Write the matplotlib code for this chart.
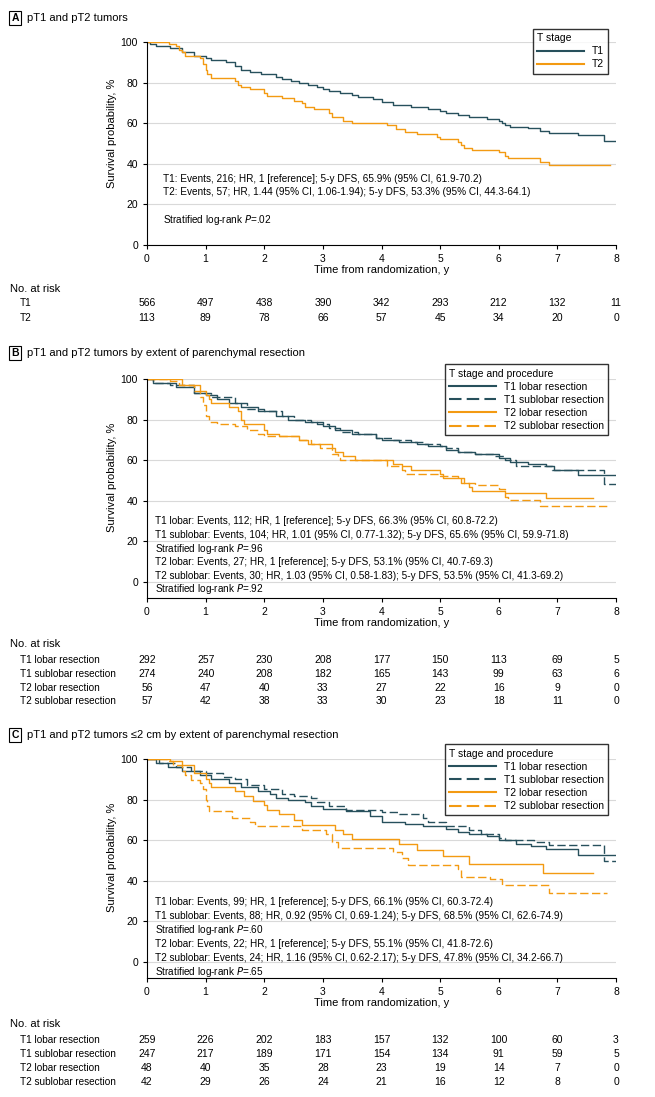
import numpy as np
import matplotlib
matplotlib.use('Agg')
import matplotlib.pyplot as plt
from matplotlib.lines import Line2D

plt.rcParams['font.family'] = ['Liberation Sans', 'DejaVu Sans']
plt.rcParams['font.size'] = 7.5

W, H = 655, 1097
T1C = '#27505c'
T2C = '#f39a12'

# ---- panel A ----
a_t1_t = [0, .05, .15, .4, .6, .8, 1.0, 1.1, 1.35, 1.5, 1.6, 1.75, 1.95, 2.2, 2.3, 2.45, 2.6, 2.75, 2.9, 3.0, 3.1, 3.3, 3.5, 3.6, 3.85, 4.0, 4.2, 4.5, 4.8, 5.0, 5.1, 5.3, 5.5, 5.8, 6.0, 6.05, 6.1, 6.2, 6.5, 6.7, 6.85, 7.35, 7.8, 8.0]
a_t1_s = [100, 99, 98, 97, 95, 93, 92, 91, 90, 88, 86, 85, 84, 83, 82, 81, 80, 79, 78, 77, 76, 75, 74, 73, 72, 70.5, 69, 68, 67, 66, 65, 64, 63, 62, 61, 60, 59, 58, 57.5, 56, 55, 54, 51, 51]
a_t2_t = [0, .37, .5, .55, .6, .65, .9, .95, 1.0, 1.02, 1.1, 1.5, 1.55, 1.6, 1.75, 2.0, 2.05, 2.3, 2.5, 2.65, 2.7, 2.85, 3.1, 3.15, 3.35, 3.5, 4.1, 4.25, 4.4, 4.6, 4.95, 5.0, 5.3, 5.35, 5.4, 5.55, 6.0, 6.1, 6.15, 6.7, 6.85, 7.9]
a_t2_s = [100, 99, 98, 96, 95, 93, 92, 89, 86, 84, 82.5, 81, 79, 78, 77, 75, 73.5, 72.5, 71, 70, 68, 67, 65, 63, 61, 60, 59, 57, 55.5, 54.5, 53, 52, 50.5, 49.5, 48, 47, 46, 44, 43, 41, 39.5, 39.5]

# ---- panel B ----
b_t1l_t = [0, .1, .5, .8, 1.0, 1.2, 1.4, 1.6, 1.9, 2.2, 2.4, 2.7, 3.0, 3.2, 3.5, 3.9, 4.0, 4.3, 4.6, 4.8, 5.1, 5.3, 5.6, 6.0, 6.2, 6.5, 6.8, 6.95, 7.35, 8.0]
b_t1l_s = [100, 98, 96, 93, 92, 90, 88, 86, 84, 82, 80, 79, 77, 75, 73, 71, 70, 69, 68, 67, 65, 64, 63, 61, 59, 58, 57, 55, 52.5, 52.5]
b_t1s_t = [0, .1, .4, .8, 1.1, 1.5, 1.7, 2.0, 2.3, 2.5, 2.8, 2.9, 3.1, 3.3, 3.6, 3.9, 4.2, 4.5, 4.7, 5.0, 5.1, 5.3, 5.6, 5.9, 6.1, 6.3, 6.9, 7.8, 8.0]
b_t1s_s = [100, 98, 97, 93, 91, 88, 85, 84, 82, 80, 79, 78, 76, 74, 73, 71, 70, 69, 68, 67, 66, 64, 63, 62, 60, 57, 55, 48.5, 48.5]
b_t2l_t = [0, .6, .9, 1.0, 1.05, 1.1, 1.4, 1.55, 1.6, 1.65, 2.0, 2.05, 2.25, 2.6, 2.75, 3.15, 3.2, 3.35, 3.55, 4.2, 4.35, 4.5, 5.0, 5.05, 5.4, 5.5, 5.55, 6.1, 6.8, 7.6]
b_t2l_s = [100, 97, 94, 92, 90, 88, 86, 84, 80, 78, 75, 73, 72, 70, 68, 66, 64, 62, 60, 58, 57, 55, 53, 51, 49, 47, 45, 44, 41.5, 41.5]
b_t2s_t = [0, .4, .55, .8, .9, .95, 1.0, 1.05, 1.2, 1.5, 1.7, 1.9, 2.0, 2.6, 2.8, 2.95, 3.15, 3.25, 3.3, 4.1, 4.35, 4.4, 5.0, 5.3, 5.35, 5.6, 6.0, 6.1, 6.15, 6.7, 7.85]
b_t2s_s = [100, 99, 97, 94, 91, 87, 82, 79, 78, 77, 75, 73, 72, 70, 68, 66, 63, 61, 60, 57, 55, 53, 52, 51, 49, 48, 46, 42, 40.5, 37.5, 37.5]

# ---- panel C ----
c_t1l_t = [0, .15, .35, .6, .9, 1.1, 1.4, 1.6, 1.9, 2.1, 2.2, 2.4, 2.7, 2.8, 3.0, 3.4, 3.8, 4.0, 4.4, 4.7, 5.1, 5.3, 5.5, 5.8, 6.0, 6.3, 6.55, 6.8, 7.35, 8.0]
c_t1l_s = [100, 98, 96, 94, 92, 90, 88, 86, 84, 83, 81, 80, 79, 77, 75.5, 74.5, 72, 69, 68, 67, 65.5, 64, 63, 62, 60, 58, 57, 55.5, 52.5, 52.5]
c_t1s_t = [0, .2, .5, .75, 1.0, 1.3, 1.5, 1.7, 2.0, 2.3, 2.5, 2.8, 2.9, 3.1, 3.4, 4.0, 4.3, 4.7, 4.8, 5.1, 5.5, 5.7, 6.0, 6.1, 6.6, 6.85, 7.8, 8.0]
c_t1s_s = [100, 98, 96, 94, 93, 91, 90, 87, 85, 83, 82, 81, 79, 77, 75, 74, 73, 71, 69, 67, 65, 63, 61, 60, 59, 57.5, 50, 50]
c_t2l_t = [0, .4, .6, .8, 1.0, 1.05, 1.1, 1.5, 1.65, 1.8, 2.0, 2.05, 2.25, 2.5, 2.65, 3.2, 3.35, 3.5, 4.3, 4.6, 5.05, 5.5, 6.75, 7.6]
c_t2l_s = [100, 99, 97, 93, 90, 88, 86, 84, 82, 79.5, 77.5, 75, 73, 70, 67.5, 65, 63, 60.5, 58, 55, 52, 48.5, 44, 44]
c_t2s_t = [0, .35, .45, .6, .65, .75, .9, .95, 1.0, 1.02, 1.05, 1.45, 1.75, 1.85, 2.65, 3.05, 3.15, 3.25, 4.2, 4.35, 4.45, 5.3, 5.35, 5.85, 6.05, 6.85, 7.85]
c_t2s_s = [100, 99, 97, 94, 92, 89.5, 88, 85, 80, 77, 74.5, 71, 69, 67, 65, 63, 59, 56, 54, 51, 48, 46, 42, 41, 38, 34, 34]

years = list(range(9))
a_risk = {'T1': [566, 497, 438, 390, 342, 293, 212, 132, 11],
          'T2': [113, 89, 78, 66, 57, 45, 34, 20, 0]}
b_risk = {'T1 lobar resection': [292, 257, 230, 208, 177, 150, 113, 69, 5],
          'T1 sublobar resection': [274, 240, 208, 182, 165, 143, 99, 63, 6],
          'T2 lobar resection': [56, 47, 40, 33, 27, 22, 16, 9, 0],
          'T2 sublobar resection': [57, 42, 38, 33, 30, 23, 18, 11, 0]}
c_risk = {'T1 lobar resection': [259, 226, 202, 183, 157, 132, 100, 60, 3],
          'T1 sublobar resection': [247, 217, 189, 171, 154, 134, 91, 59, 5],
          'T2 lobar resection': [48, 40, 35, 28, 23, 19, 14, 7, 0],
          'T2 sublobar resection': [42, 29, 26, 24, 21, 16, 12, 8, 0]}

a_notes = ['T1: Events, 216; HR, 1 [reference]; 5-y DFS, 65.9% (95% CI, 61.9-70.2)',
           'T2: Events, 57; HR, 1.44 (95% CI, 1.06-1.94); 5-y DFS, 53.3% (95% CI, 44.3-64.1)']
b_notes = ['T1 lobar: Events, 112; HR, 1 [reference]; 5-y DFS, 66.3% (95% CI, 60.8-72.2)',
           'T1 sublobar: Events, 104; HR, 1.01 (95% CI, 0.77-1.32); 5-y DFS, 65.6% (95% CI, 59.9-71.8)',
           'Stratified log-rank $P$=.96',
           'T2 lobar: Events, 27; HR, 1 [reference]; 5-y DFS, 53.1% (95% CI, 40.7-69.3)',
           'T2 sublobar: Events, 30; HR, 1.03 (95% CI, 0.58-1.83); 5-y DFS, 53.5% (95% CI, 41.3-69.2)',
           'Stratified log-rank $P$=.92']
c_notes = ['T1 lobar: Events, 99; HR, 1 [reference]; 5-y DFS, 66.1% (95% CI, 60.3-72.4)',
           'T1 sublobar: Events, 88; HR, 0.92 (95% CI, 0.69-1.24); 5-y DFS, 68.5% (95% CI, 62.6-74.9)',
           'Stratified log-rank $P$=.60',
           'T2 lobar: Events, 22; HR, 1 [reference]; 5-y DFS, 55.1% (95% CI, 41.8-72.6)',
           'T2 sublobar: Events, 24; HR, 1.16 (95% CI, 0.62-2.17); 5-y DFS, 47.8% (95% CI, 34.2-66.7)',
           'Stratified log-rank $P$=.65']

fig = plt.figure(figsize=(W / 100, H / 100), dpi=100)

def fx(x):
    return x / W

def fy(y):
    return 1 - y / H

X0, X1 = 147, 616
DASH = (6, 2.5)


def make_axes(y100, y0, ybot):
    # y100/y0: pixel rows of 100 and 0, ybot: pixel row of axis line
    per = (y0 - y100) / 100.0
    ymin = -(ybot - y0) / per
    ax = fig.add_axes([fx(X0), fy(ybot), fx(X1) - fx(X0), (ybot - y100) / H])
    ax.set_xlim(0, 8)
    ax.set_ylim(ymin, 100)
    ax.set_yticks(range(0, 101, 20))
    ax.set_xticks(years)
    ax.grid(axis='y', color='#d9d9d9', lw=0.8)
    ax.set_axisbelow(True)
    for s in ['top', 'right']:
        ax.spines[s].set_visible(False)
    ax.tick_params(labelsize=7.5, length=3)
    ax.set_ylabel('Survival probability, %', fontsize=8)
    ax.set_xlabel('Time from randomization, y', fontsize=8, labelpad=1)
    ax.yaxis.set_label_coords(-0.065, 0.55)
    return ax


def curve(ax, t, s, color, ls='-'):
    if ls == '--':
        ax.step(t, s, where='post', color=color, lw=1.0, ls='--', dashes=DASH)
    else:
        ax.step(t, s, where='post', color=color, lw=1.0)


def heading(letter, text, y):
    fig.text(fx(15), fy(y), letter, fontsize=7.5, weight='bold', ha='center', va='center',
             bbox=dict(boxstyle='square,pad=0.2', fc='white', ec='black', lw=0.8))
    fig.text(fx(27), fy(y), text, fontsize=8, va='center')


def risk_table(rows, y_head, y_rows):
    fig.text(fx(10), fy(y_head), 'No. at risk', fontsize=8, va='center')
    tax = fig.add_axes([fx(X0), 0, fx(X1) - fx(X0), 1])
    tax.set_xlim(0, 8)
    tax.set_ylim(H, 0)
    tax.axis('off')
    for (lab, vals), y in zip(rows.items(), y_rows):
        fig.text(fx(20), fy(y), lab, fontsize=7.2, va='center')
        for x, v in zip(years, vals):
            tax.text(x, y, str(v), fontsize=7.5, ha='center', va='center')


def legend(ax, title, handles, labels):
    lg = ax.legend(handles, labels, title=title, loc='upper right', bbox_to_anchor=(0.995, 1.09),
                   frameon=True, fancybox=False, edgecolor='black', fontsize=7.5, title_fontsize=7.5,
                   handlelength=4.5, borderpad=0.4, labelspacing=0.3, alignment='left')
    lg.get_frame().set_linewidth(1.0)


def notes(ax, lines, y_pix, y100, y0, x=0.14):
    per = (y0 - y100) / 100.0
    for txt, y in zip(lines, y_pix):
        ax.text(x, (y0 - y) / per, txt, fontsize=7.2, va='center')

# Panel A
heading('A', 'pT1 and pT2 tumors', 18)
axA = make_axes(42, 245, 245)
curve(axA, a_t1_t, a_t1_s, T1C)
curve(axA, a_t2_t, a_t2_s, T2C)
hA = [Line2D([], [], color=T1C), Line2D([], [], color=T2C)]
legend(axA, 'T stage', hA, ['T1', 'T2'])
notes(axA, a_notes, [179, 192], 42, 245, x=0.28)
notes(axA, ['Stratified log-rank $P$=.02'], [220], 42, 245, x=0.28)
risk_table(a_risk, 289, [303, 318])

leg_labels = ['T1 lobar resection', 'T1 sublobar resection', 'T2 lobar resection', 'T2 sublobar resection']
hBC = [Line2D([], [], color=T1C), Line2D([], [], color=T1C, ls='--', dashes=DASH),
       Line2D([], [], color=T2C), Line2D([], [], color=T2C, ls='--', dashes=DASH)]

# Panel B
heading('B', 'pT1 and pT2 tumors by extent of parenchymal resection', 353)
axB = make_axes(379, 582, 598)
curve(axB, b_t1l_t, b_t1l_s, T1C)
curve(axB, b_t1s_t, b_t1s_s, T1C, '--')
curve(axB, b_t2l_t, b_t2l_s, T2C)
curve(axB, b_t2s_t, b_t2s_s, T2C, '--')
legend(axB, 'T stage and procedure', hBC, leg_labels)
notes(axB, b_notes, [521, 535, 549, 562, 576, 589], 379, 582)
risk_table(b_risk, 644, [660, 674, 688, 701])

# Panel C
heading('C', 'pT1 and pT2 tumors \u22642 cm by extent of parenchymal resection', 735)
axC = make_axes(759, 962, 978)
curve(axC, c_t1l_t, c_t1l_s, T1C)
curve(axC, c_t1s_t, c_t1s_s, T1C, '--')
curve(axC, c_t2l_t, c_t2l_s, T2C)
curve(axC, c_t2s_t, c_t2s_s, T2C, '--')
legend(axC, 'T stage and procedure', hBC, leg_labels)
notes(axC, c_notes, [902, 916, 930, 944, 958, 972], 759, 962)
risk_table(c_risk, 1024, [1040, 1054, 1068, 1082])

fig.savefig('out.png', dpi=100)
